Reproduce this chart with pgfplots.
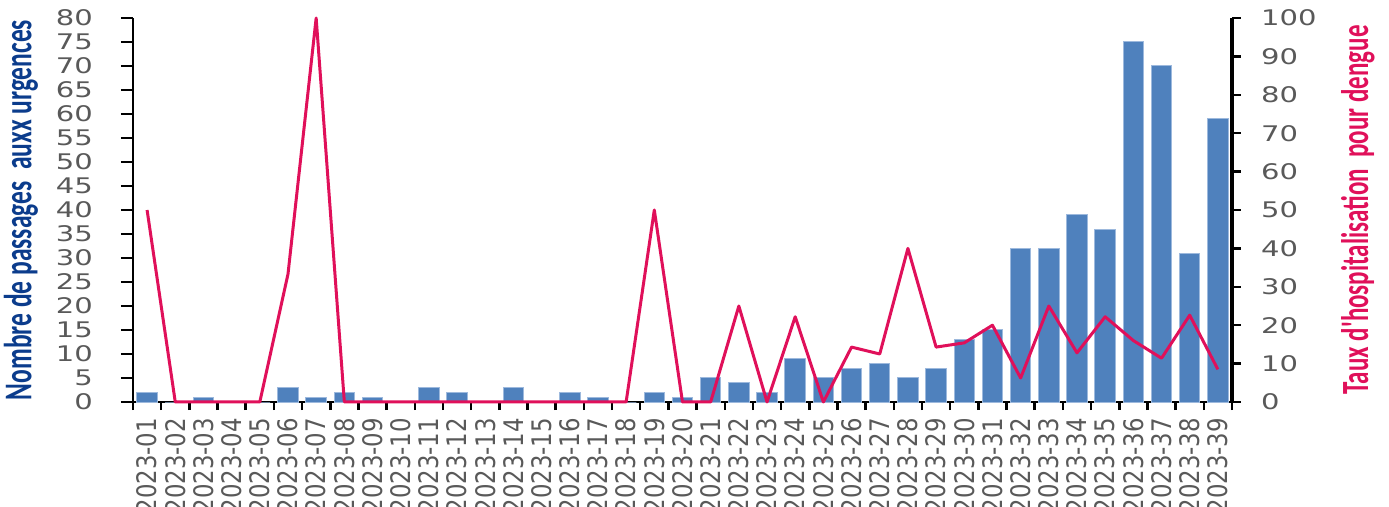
\documentclass[border=0pt]{standalone}
\usepackage{pgfplots}
\pgfplotsset{compat=1.18}
\usepackage{pgfplotstable}
\usepackage{graphicx}
\usepackage{fontspec}
\setmainfont{DejaVu Sans}
\newfontfamily\lblfont{Carlito}

\definecolor{barblue}{HTML}{4F81BD}
\definecolor{baredge}{HTML}{9DB9DD}
\definecolor{rose}{HTML}{E0105A}
\definecolor{navy}{HTML}{0B3C8C}
\definecolor{tickgray}{HTML}{595959}

% semaine, passages aux urgences, taux d'hospitalisation (%)
\pgfplotstableread{
x  n   taux
1  2   50
2  0   0
3  1   0
4  0   0
5  0   0
6  3   33.3
7  1   100
8  2   0
9  1   0
10 0   0
11 3   0
12 2   0
13 0   0
14 3   0
15 0   0
16 2   0
17 1   0
18 0   0
19 2   50
20 1   0
21 5   0
22 4   25
23 2   0
24 9   22.2
25 5   0
26 7   14.3
27 8   12.5
28 5   40
29 7   14.3
30 13  15.4
31 15  20
32 32  6.25
33 32  25
34 39  12.8
35 36  22.2
36 75  16
37 70  11.4
38 31  22.6
39 59  8.5
}\data

\newcommand\xl[1]{\scalebox{1}[1.18]{2023-#1}}
\newcommand\yl[1]{\scalebox{1.35}[1]{#1}}

\begin{document}
\begin{tikzpicture}
\useasboundingbox (0,0) rectangle (1389pt,506pt);

\pgfplotsset{
  common/.style={
    scale only axis,
    width=1099pt, height=384pt,
    at={(133pt,104pt)}, anchor=south west,
    xmin=0.5, xmax=39.5,
    clip=false,
    tick align=outside,
    /pgf/number format/assume math mode=true,
    tick style={black, line width=2.5pt},
    ticklabel style={font=\fontsize{21.5}{21.5}\selectfont, text=tickgray},
  }
}

\begin{axis}[
  common,
  ymin=0, ymax=80,
  ytick={0,5,...,80},
  yticklabel={\yl{\pgfmathprintnumber{\tick}}},
  yticklabel style={anchor=east, inner sep=0pt, xshift=-28pt},
  xtick={1,...,39},
  xticklabels={\xl{01},\xl{02},\xl{03},\xl{04},\xl{05},\xl{06},\xl{07},\xl{08},\xl{09},\xl{10},
    \xl{11},\xl{12},\xl{13},\xl{14},\xl{15},\xl{16},\xl{17},\xl{18},\xl{19},\xl{20},
    \xl{21},\xl{22},\xl{23},\xl{24},\xl{25},\xl{26},\xl{27},\xl{28},\xl{29},\xl{30},
    \xl{31},\xl{32},\xl{33},\xl{34},\xl{35},\xl{36},\xl{37},\xl{38},\xl{39}},
  xticklabel style={yshift=-4pt, rotate=90, anchor=east, inner sep=0pt,
    font=\fontsize{22.8}{22.8}\selectfont},
  minor xtick={0.5,1.5,...,39.5},
  major x tick style={draw=none},
  major tick length=12pt,
  minor tick length=8pt,
  axis x line*=bottom,
  axis y line*=left,
  axis line style={-, line width=2.5pt, black},
  every axis y label/.style={at={(rel axis cs:0,0.5)}, xshift=-112pt,
    rotate=90, anchor=center},
  ylabel={\scalebox{1}[1.54]{\lblfont\bfseries\fontsize{25.5}{25.5}\selectfont\color{navy}Nombre de passages\ \ auxx urgences}},
  ybar, bar width=20.5pt,
]
\addplot[fill=barblue, draw=baredge, line width=1pt] table[x=x, y=n]{\data};
\end{axis}

\begin{axis}[
  common,
  ymin=0, ymax=100,
  ytick={0,10,...,100},
  yticklabel={\yl{\pgfmathprintnumber{\tick}}},
  yticklabel style={anchor=west, inner sep=0pt, xshift=20pt},
  major tick length=9pt,
  axis x line=none,
  axis y line*=right,
  axis line style={-, line width=4pt, black},
  every axis y label/.style={at={(rel axis cs:1,0.5)}, xshift=126pt,
    rotate=90, anchor=center},
  ylabel={\scalebox{1}[1.54]{\lblfont\bfseries\fontsize{25}{25}\selectfont\color{rose}Taux d'hospitalisation\ \ pour dengue}},
]
\addplot[rose, line width=3pt, line join=round, mark=none] table[x=x, y=taux]{\data};
\end{axis}
\end{tikzpicture}
\end{document}
